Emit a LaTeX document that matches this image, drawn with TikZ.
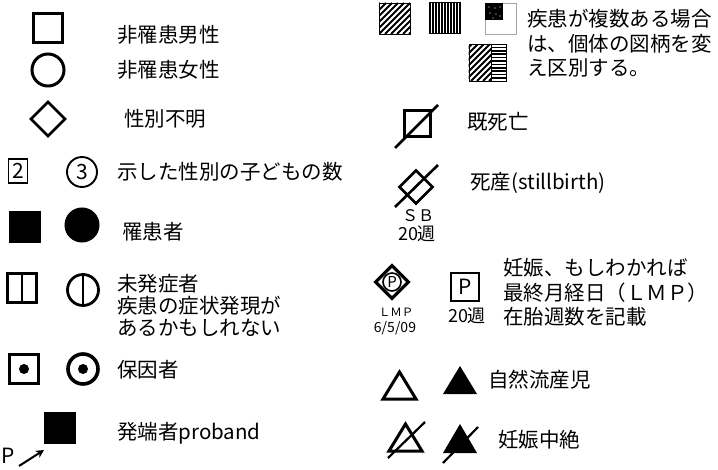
\documentclass[tikz,border=0pt]{standalone}
\usepackage{fontspec}
\setmainfont{Noto Sans CJK JP}
\usetikzlibrary{shapes.geometric,arrows.meta}
\begin{document}
\begin{tikzpicture}[x=1pt,y=-1pt,
  lbl/.style={anchor=west,inner sep=0,font=\fontsize{20.5}{24}\selectfont},
  sml/.style={inner sep=0,font=\fontsize{18}{20}\selectfont},
  tiny/.style={inner sep=0,font=\fontsize{11.5}{12}\selectfont},
  sq/.style={draw,rectangle,line width=3pt,inner sep=0,minimum size=29pt},
  ci/.style={draw,circle,line width=3pt,inner sep=0,minimum size=32pt},
  di/.style={draw,diamond,aspect=1,line width=2.6pt,inner sep=0,minimum size=35pt},
  hb/.style={draw,rectangle,line width=0.8pt,inner sep=0,minimum size=31pt},
  dot/.style={fill=black,circle,inner sep=0,minimum size=10pt},
  slash/.style={line width=2.6pt},
  tri/.style={line width=3pt,line join=miter},
]
\useasboundingbox (0,0) rectangle (718,469);

% ---------- left column ----------
\node[sq] (male) at (48,28) {};
\node[lbl] (tmale) at (117,35) {非罹患男性};

\node[ci] (female) at (48,70) {};
\node[lbl] (tfemale) at (117,70) {非罹患女性};

\node[di] (unk) at (48,119) {};
\node[lbl] (tunk) at (124,119) {性別不明};

\node[draw,rectangle,line width=1.6pt,minimum width=19pt,minimum height=24pt,inner sep=0,font=\fontsize{21}{21}\selectfont] (n2) at (18,171) {2};
\node[draw,circle,line width=1.9pt,minimum size=30pt,inner sep=0,font=\fontsize{21}{21}\selectfont] (n3) at (82,172) {3};
\node[lbl] (tnum) at (117,172) {示した性別の子どもの数};

\node[sq,fill=black] (aff1) at (25,227) {};
\node[ci,fill=black] (aff2) at (82,225) {};
\node[lbl] (taff) at (122,232) {罹患者};

\node[sq,line width=2.4pt,minimum size=29pt] (pre1) at (22,288) {};
\draw[line width=2.2pt] (pre1.north) -- (pre1.south);
\node[ci,line width=2.8pt,minimum size=31pt] (pre2) at (83,290) {};
\draw[line width=2pt] (pre2.north) -- (pre2.south);
\node[lbl] (tpre1) at (117,284) {未発症者};
\node[lbl] (tpre2) at (117,306) {疾患の症状発現が};
\node[lbl] (tpre3) at (117,328) {あるかもしれない};

\node[sq] (car1) at (24,369) {};
\node[dot] (car1d) at (car1) {};
\node[ci,line width=3.6pt,minimum size=30pt] (car2) at (83,369) {};
\node[dot] (car2d) at (car2) {};
\node[lbl] (tcar) at (117,370) {保因者};

\node[sq,fill=black] (prob) at (60,428) {};
\node[lbl] (tprob) at (117,433) {発端者proband};
\node[inner sep=0,font=\fontsize{21}{21}\selectfont] (P) at (8,456) {P};
\coordinate (parr) at (44,450);
\draw[line width=2pt,-{Stealth[length=8pt,width=8pt]}] (19,466) -- (parr);

% ---------- right column: patterns ----------
\node[hb] (h1) at (395,18.5) {};
\begin{scope}
  \clip (h1.south west) rectangle (h1.north east);
  \foreach \i in {-36,-30,...,36} \draw[line width=1.8pt] (379+\i,34) -- (410+\i,3);
\end{scope}
\node[hb] (h2) at (444.5,18) {};
\begin{scope}
  \clip (h2.south west) rectangle (h2.north east);
  \foreach \i in {1,4,...,33} \draw[line width=1.4pt] (429+\i,2) -- (429+\i,34);
\end{scope}
\node[hb,draw=gray!70] (h3) at (501,18.5) {};
\fill (h3.north west) rectangle (503,20);
\foreach \px/\py in {489/7,495/8,500/7,490/13,496/14,500/16,493/18}
  \fill[white] (\px,\py) circle (0.6);
\node[hb,minimum width=37pt,minimum height=37pt,line width=1pt] (h4) at (487.5,62.5) {};
\begin{scope}
  \clip (h4.south west) rectangle (491,44);
  \foreach \i in {-40,-34,...,30} \draw[line width=1.8pt] (469+\i,81) -- (506+\i,44);
\end{scope}
\draw[line width=1pt] (491,44) -- (491,81);
\begin{scope}
  \clip (491,44) rectangle (h4.south east);
  \foreach \j in {0,3.4,...,37} \draw[line width=1.5pt] (491,44+\j) -- (506,44+\j);
\end{scope}
\node[lbl] (tm1) at (527,19) {疾患が複数ある場合};
\node[lbl] (tm2) at (527,44) {は、個体の図柄を変};
\node[lbl] (tm3) at (527,68) {え区別する。};

% ---------- deceased ----------
\node[sq,minimum size=26pt] (dec) at (417,123) {};
\coordinate (dec1) at (395,148);
\coordinate (dec2) at (438,105);
\draw[slash] (dec1) -- (dec2);
\node[lbl] (tdec) at (467,122) {既死亡};

% ---------- stillbirth ----------
\node[di,minimum size=34pt] (sb) at (416,187) {};
\coordinate (sb1) at (395,207);
\coordinate (sb2) at (438,165);
\draw[slash] (sb1) -- (sb2);
\node[lbl] (tsb) at (470,183) {死産(stillbirth)};
\node[sml,font=\fontsize{16}{18}\selectfont] (sbl) at (418,216) {ＳＢ};
\node[sml] (sbw) at (417,234) {20週};

% ---------- pregnancy ----------
\node[di,line width=3.2pt,minimum size=34pt] (preg) at (392,282) {};
\node[draw,circle,line width=1.6pt,minimum size=18pt,inner sep=0,font=\fontsize{15}{15}\selectfont] (pc) at (preg) {P};
\node[tiny] (lmp) at (396,312) {ＬＭＰ};
\node[tiny,font=\fontsize{14}{14}\selectfont] (lmpd) at (395,328) {6/5/09};
\node[draw,rectangle,line width=2.2pt,minimum size=28pt,inner sep=0,font=\fontsize{21}{21}\selectfont] (psq) at (465,287) {P};
\node[sml] (pw) at (467,316) {20週};
\node[lbl] (tp1) at (503,268) {妊娠、もしわかれば};
\node[lbl] (tp2) at (503,293) {最終月経日（ＬＭＰ）};
\node[lbl] (tp3) at (503,317) {在胎週数を記載};

% ---------- miscarriage / termination ----------
\draw[tri] (399.5,372) -- (416,399) -- (383,399) -- cycle;
\fill (460,366) -- (477,394) -- (443,394) -- cycle;
\node[lbl] (tsab) at (488,380) {自然流産児};

\draw[tri] (405.5,424) -- (422,451) -- (389,451) -- cycle;
\coordinate (ta1) at (388,458);
\coordinate (ta2) at (425,422);
\draw[slash,line width=2.2pt] (ta1) -- (ta2);
\fill (460,424) -- (477,453) -- (443,453) -- cycle;
\coordinate (tb1) at (443,463);
\coordinate (tb2) at (478,427);
\draw[slash,line width=2.2pt] (tb1) -- (tb2);
\node[lbl] (ttop) at (498,440) {妊娠中絶};
\end{tikzpicture}
\end{document}
